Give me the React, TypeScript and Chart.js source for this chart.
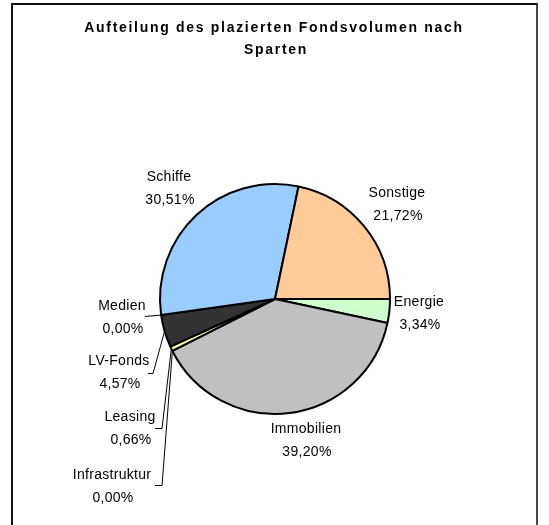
import React, { useEffect, useRef } from "react";
import { Chart, registerables } from "chart.js";

Chart.register(...registerables);

const categories = ["Energie", "Immobilien", "Infrastruktur", "Leasing", "LV-Fonds", "Medien", "Schiffe", "Sonstige"];
const shares = [3.34, 39.2, 0.0, 0.66, 4.57, 0.0, 30.51, 21.72];
const sliceColors = ["#CCFFCC", "#C0C0C0", "#9999FF", "#FFFF99", "#333333", "#993366", "#99CCFF", "#FFCC99"];
const titleLines = ["Aufteilung des plazierten Fondsvolumen nach", "Sparten"];

// label layout (text centre x, first line y, optional leader line knee: [xStart, xKnee, y])
const labelLayout: Record<string, { x: number; y: number; knee?: [number, number, number] }> = {
  Energie: { x: 419, y: 302 },
  Immobilien: { x: 306, y: 429 },
  Infrastruktur: { x: 112, y: 475, knee: [155, 162, 485] },
  Leasing: { x: 130, y: 417, knee: [155, 162, 428] },
  "LV-Fonds": { x: 119, y: 361, knee: [148, 153, 373] },
  Medien: { x: 122, y: 306, knee: [145, 145, 316] },
  Schiffe: { x: 169, y: 177 },
  Sonstige: { x: 397, y: 193 },
};

const fmt = (v: number) => v.toFixed(2).replace(".", ",") + "%";

const labelPlugin = {
  id: "excelLabels",
  afterDraw(chart: any) {
    const ctx = chart.ctx as CanvasRenderingContext2D;
    ctx.save();
    // title
    ctx.fillStyle = "#000";
    ctx.font = "bold 14px 'Liberation Sans', Arial, sans-serif";
    (ctx as any).letterSpacing = "1.7px";
    ctx.textAlign = "center";
    ctx.textBaseline = "middle";
    ctx.fillText(titleLines[0], 274, 28);
    ctx.fillText(titleLines[1], 276, 50);

    // labels
    (ctx as any).letterSpacing = "0.3px";
    ctx.font = "14px 'Liberation Sans', Arial, sans-serif";
    const meta = chart.getDatasetMeta(0);
    categories.forEach((name, i) => {
      const lay = labelLayout[name];
      if (!lay) return;
      ctx.fillStyle = "#000";
      ctx.fillText(name, lay.x, lay.y);
      ctx.fillText(fmt(shares[i]), lay.x + 1, lay.y + 23);
      if (lay.knee) {
        const arc = meta.data[i] as any;
        const p = arc.getProps(["x", "y", "startAngle", "endAngle", "outerRadius"], true);
        const a = (p.startAngle + p.endAngle) / 2;
        const ex = p.x + Math.cos(a) * p.outerRadius;
        const ey = p.y + Math.sin(a) * p.outerRadius;
        ctx.strokeStyle = "#000";
        ctx.lineWidth = 1;
        ctx.beginPath();
        ctx.moveTo(lay.knee[0], lay.knee[2] + 0.5);
        ctx.lineTo(lay.knee[1], lay.knee[2] + 0.5);
        ctx.lineTo(ex, ey);
        ctx.stroke();
      }
    });
    ctx.restore();
  },
};

export default function App() {
  const ref = useRef<HTMLCanvasElement>(null);
  useEffect(() => {
    if (!ref.current) return;
    const chart = new Chart(ref.current, {
      type: "pie",
      data: {
        labels: categories,
        datasets: [
          {
            data: shares,
            backgroundColor: sliceColors,
            borderColor: "#000",
            borderWidth: 2,
          },
        ],
      },
      options: {
        responsive: false,
        animation: false,
        devicePixelRatio: 1,
        rotation: 90,
        radius: 115,
        layout: { padding: { left: 30, right: 29, top: 100, bottom: 27 } },
        plugins: { legend: { display: false }, tooltip: { enabled: false }, title: { display: false } },
      } as any,
      plugins: [labelPlugin],
    });
    return () => chart.destroy();
  }, []);
  return (
    <div style={{ position: "fixed", left: 0, top: 0, width: 549, height: 525, background: "#fff", overflow: "hidden" }}>
      <div
        style={{
          position: "absolute",
          left: 11,
          top: 3,
          width: 523,
          height: 600,
          borderLeft: "2px solid #111",
          borderTop: "2px solid #111",
          borderRight: "2px solid #444",
        }}
      />
      <canvas ref={ref} width={549} height={525} style={{ position: "absolute", left: 0, top: 0 }} />
    </div>
  );
}
